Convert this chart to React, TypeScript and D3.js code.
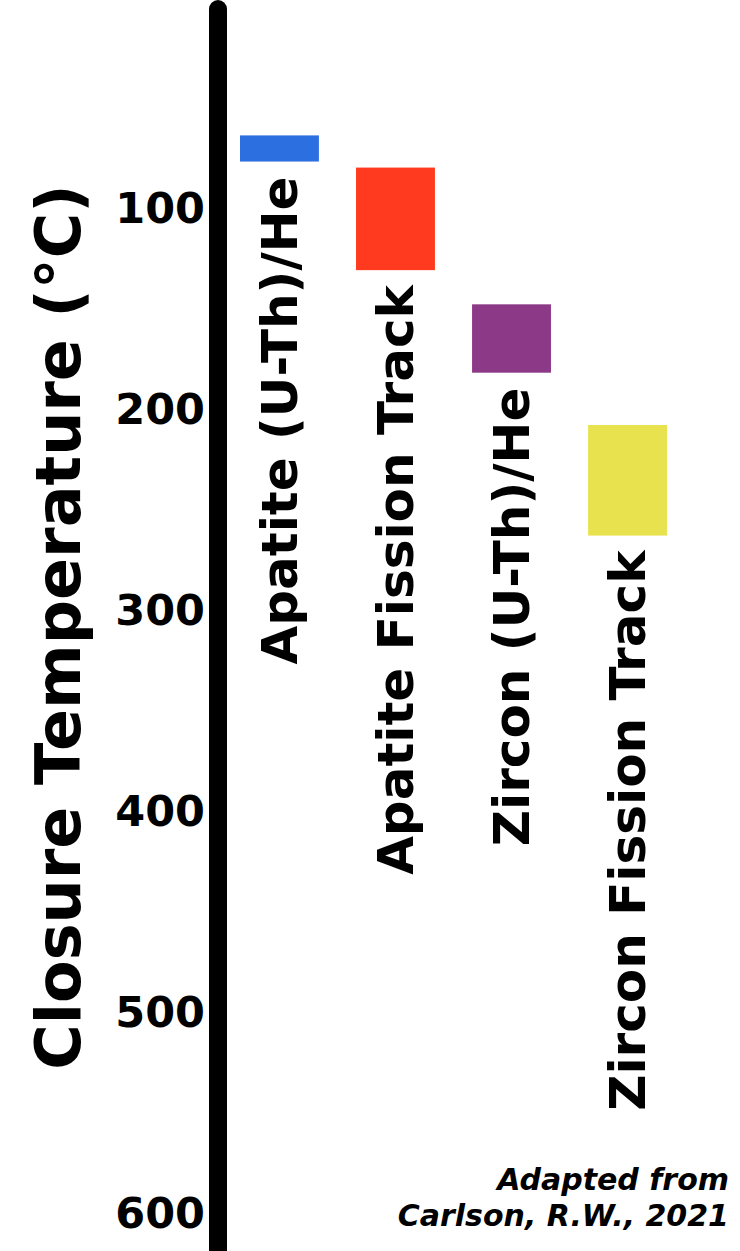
import * as d3 from "d3";

const METHODS = [
  "Apatite (U-Th)/He",
  "Apatite Fission Track",
  "Zircon (U-Th)/He",
  "Zircon Fission Track",
];
const LOW_TEMPS = [64, 80, 148, 208];
const HIGH_TEMPS = [77, 131, 182, 263];
const METHOD_COLORS = ["#2c6fe0", "#ff3a1f", "#8c3a87", "#e8e24e"];
const TICKS = [100, 200, 300, 400, 500, 600];

const FONT = "'DejaVu Sans', Verdana, sans-serif";

export default function App() {
  const width = 740;
  const height = 1251;

  const yScale = d3.scaleLinear().domain([0, 620]).range([6.7, 1253.5]);

  const xScale = d3
    .scaleBand<string>()
    .domain(METHODS)
    .range([240, 667])
    .paddingInner(0.32)
    .paddingOuter(0);

  const axisX = 218;

  return (
    <svg
      width={width}
      height={height}
      style={{ position: "absolute", left: 0, top: 0, display: "block" }}
    >
      <rect width={width} height={height} fill="#ffffff" />

      {/* axis spine */}
      <line
        x1={axisX}
        x2={axisX}
        y1={9}
        y2={height + 20}
        stroke="#000"
        strokeWidth={18}
        strokeLinecap="round"
      />

      {/* tick labels */}
      {TICKS.map((t) => (
        <text
          key={t}
          x={205}
          y={yScale(t)}
          textAnchor="end"
          dominantBaseline="central"
          fontFamily={FONT}
          fontWeight="bold"
          fontSize={43}
          fill="#000"
        >
          {t}
        </text>
      ))}

      {/* axis title */}
      <text
        transform={`translate(80, 627) rotate(-90)`}
        textAnchor="middle"
        fontFamily={FONT}
        fontWeight="bold"
        fontSize={62}
        fill="#000"
      >
        Closure Temperature (°C)
      </text>

      {/* closure ranges */}
      {METHODS.map((m, i) => {
        const x = xScale(m) ?? 0;
        const y0 = yScale(LOW_TEMPS[i]);
        const y1 = yScale(HIGH_TEMPS[i]);
        const cx = x + xScale.bandwidth() / 2;
        return (
          <g key={m}>
            <rect
              x={x}
              y={y0}
              width={xScale.bandwidth()}
              height={y1 - y0}
              fill={METHOD_COLORS[i]}
            />
            <text
              transform={`translate(${cx}, ${y1 + 15}) rotate(-90)`}
              textAnchor="end"
              dy="0.35em"
              fontFamily={FONT}
              fontWeight="bold"
              fontSize={50}
              fill="#000"
            >
              {m}
            </text>
          </g>
        );
      })}

      {/* source note */}
      <text
        x={729}
        y={1190}
        textAnchor="end"
        fontFamily={FONT}
        fontWeight="bold"
        fontStyle="italic"
        fontSize={30}
        fill="#000"
      >
        Adapted from
      </text>
      <text
        x={729}
        y={1226}
        textAnchor="end"
        fontFamily={FONT}
        fontWeight="bold"
        fontStyle="italic"
        fontSize={30}
        fill="#000"
      >
        Carlson, R.W., 2021
      </text>
    </svg>
  );
}
